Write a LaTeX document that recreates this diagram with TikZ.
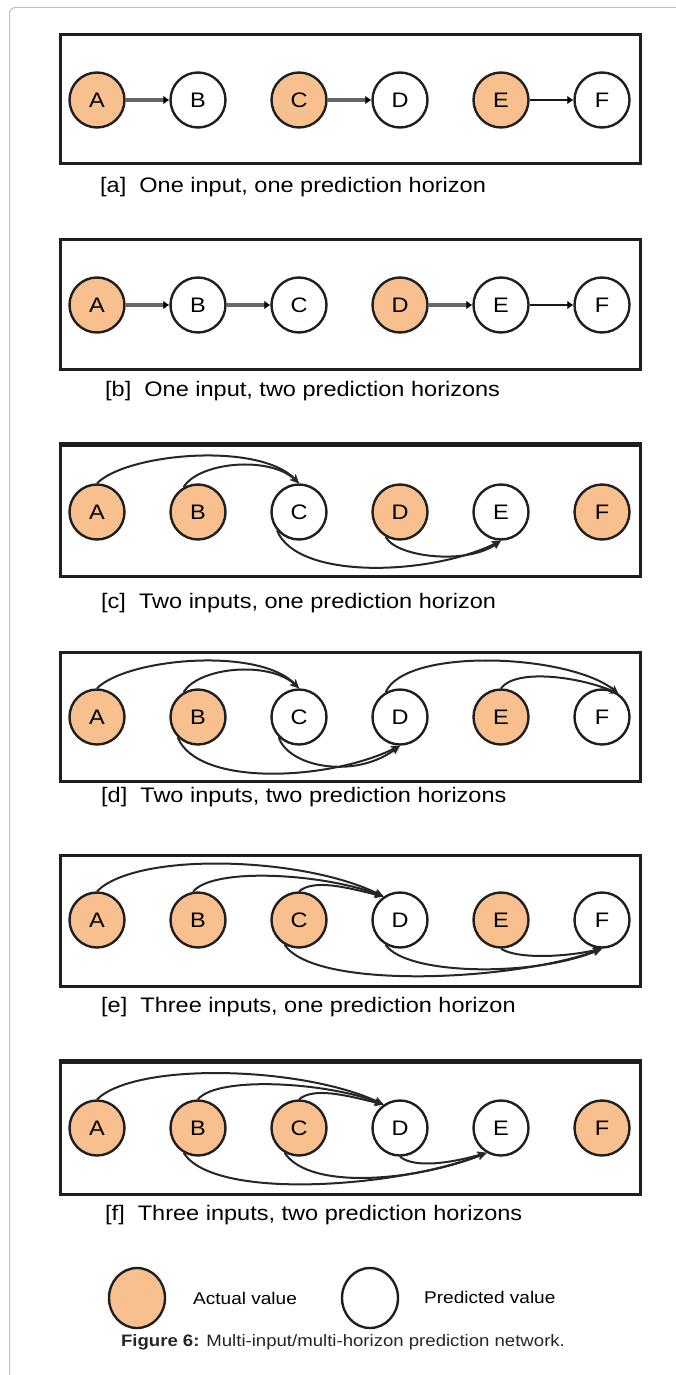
\documentclass[tikz,border=0pt]{standalone}
\usepackage{fontspec}
\setmainfont{Liberation Sans}[FakeStretch=1.12]
\usetikzlibrary{arrows.meta,shapes.geometric}
\definecolor{nodeor}{RGB}{248,192,142}
\definecolor{outline}{RGB}{190,190,190}
\newcommand{\nodesrow}[8]{%
  \node[#3] (#1A) at (97,-#2) {A};
  \node[#4] (#1B) at (198,-#2) {B};
  \node[#5] (#1C) at (299,-#2) {C};
  \node[#6] (#1D) at (400,-#2) {D};
  \node[#7] (#1E) at (501,-#2) {E};
  \node[#8] (#1F) at (602,-#2) {F};
}
\tikzset{
  base/.style={circle, draw=black!88, line width=2.4pt, minimum size=55pt, inner sep=0pt, font=\fontsize{21}{25}\selectfont},
  act/.style={base, fill=nodeor},
  pred/.style={base, fill=white},
  panelbox/.style={draw=black!88, line width=3pt},
  captext/.style={anchor=west, inner sep=0pt, font=\fontsize{21}{25}\selectfont},
  curvearrow/.style={draw=black!85, line width=2pt, -{Stealth[length=9pt,width=8pt]}},
  thickarrow/.style={draw=black!60, line width=4pt, -{Latex[length=6pt,width=9pt,black]}},
  thinarrow/.style={draw=black!90, line width=2.2pt, -{Latex[length=6pt,width=9pt,black]}},
  legendtext/.style={anchor=west, inner sep=0pt, font=\fontsize{17}{20}\selectfont}
}
\begin{document}
\begin{tikzpicture}[x=1pt,y=1pt]
\useasboundingbox (0,0) rectangle (676,-1375);
\fill[white] (0,0) rectangle (676,-1375);
\draw[outline, line width=1pt, rounded corners=6pt] (9.5,-1380) -- (9.5,-7.5) -- (690,-7.5);

% ---------- panel a ----------
\draw[panelbox] (60,-35) rectangle (640,-164);
\nodesrow{a}{100}{act}{pred}{act}{pred}{act}{pred}
\draw[thickarrow] (aA) -- (aB);
\draw[thickarrow] (aC) -- (aD);
\draw[thinarrow] (aE) -- (aF);
\node[captext] (capa) at (100,-187) {[a]\ \ One input, one prediction horizon};

% ---------- panel b ----------
\draw[panelbox] (60,-239) rectangle (640,-369);
\nodesrow{b}{305}{act}{pred}{pred}{act}{pred}{pred}
\draw[thickarrow, line width=3.5pt] (bA) -- (bB);
\draw[thickarrow, line width=3.5pt] (bB) -- (bC);
\draw[thickarrow] (bD) -- (bE);
\draw[thinarrow] (bE) -- (bF);
\node[captext] (capb) at (105,-391) {[b]\ \ One input, two prediction horizons};

% ---------- panel c ----------
\draw[panelbox] (60,-444) rectangle (640,-576);
\draw[panelbox, line width=5pt] (58.5,-444) -- (641.5,-444);
\nodesrow{c}{512}{act}{act}{pred}{act}{pred}{act}
\draw[curvearrow] (cA.north) .. controls +(30,30) and +(-40,42) .. (cC.north);
\draw[curvearrow] (cB.120) .. controls +(15,25) and +(-30,28) .. (cC.north);
\draw[curvearrow] (cC.220) .. controls +(20,-50) and +(-70,-35) .. (cE.south);
\draw[curvearrow] (cD.240) .. controls +(10,-20) and +(-35,-25) .. (cE.south);
\node[captext] (capc) at (101,-603) {[c]\ \ Two inputs, one prediction horizon};

% ---------- panel d ----------
\draw[panelbox] (60,-652) rectangle (640,-781);
\nodesrow{d}{717}{act}{act}{pred}{pred}{act}{pred}
\draw[curvearrow] (dA.north) .. controls +(30,30) and +(-40,42) .. (dC.north);
\draw[curvearrow] (dB.120) .. controls +(15,25) and +(-30,28) .. (dC.north);
\draw[curvearrow] (dB.225) .. controls +(20,-50) and +(-70,-35) .. (dD.south);
\draw[curvearrow] (dC.225) .. controls +(10,-30) and +(-45,-34) .. (dD.south);
\draw[curvearrow] (dD.120) .. controls +(20,45) and +(-50,40) .. (dF.55);
\draw[curvearrow] (dE.north) .. controls +(15,20) and +(-40,17) .. (dF.55);
\node[captext] (capd) at (101,-797) {[d]\ \ Two inputs, two prediction horizons};

% ---------- panel e ----------
\draw[panelbox] (60,-855) rectangle (640,-986);
\nodesrow{e}{920}{act}{act}{act}{pred}{act}{pred}
\draw[curvearrow] (eA.north) .. controls +(40,40) and +(-80,40) .. (eD.125);
\draw[curvearrow] (eB.100) .. controls +(20,25) and +(-60,23) .. (eD.125);
\draw[curvearrow] (eC.north) .. controls +(15,12) and +(-40,10) .. (eD.125);
\draw[curvearrow] (eC.240) .. controls +(30,-45) and +(-90,-33) .. (eF.south);
\draw[curvearrow] (eD.240) .. controls +(20,-30) and +(-70,-29) .. (eF.south);
\draw[curvearrow] (eE.south) .. controls +(15,-10) and +(-40,-9) .. (eF.south);
\node[captext] (cape) at (101,-1007) {[e]\ \ Three inputs, one prediction horizon};

% ---------- panel f ----------
\draw[panelbox] (60,-1061) rectangle (640,-1194);
\draw[panelbox, line width=5pt] (58.5,-1061) -- (641.5,-1061);
\nodesrow{f}{1128}{act}{act}{act}{pred}{pred}{act}
\draw[curvearrow] (fA.north) .. controls +(40,38) and +(-80,38) .. (fD.125);
\draw[curvearrow] (fB.north) .. controls +(20,24) and +(-55,22) .. (fD.125);
\draw[curvearrow] (fC.north) .. controls +(15,12) and +(-40,10) .. (fD.125);
\draw[curvearrow] (fB.240) .. controls +(30,-48) and +(-90,-35) .. (fE.240);
\draw[curvearrow] (fC.240) .. controls +(25,-38) and +(-70,-28) .. (fE.240);
\draw[curvearrow] (fD.south) .. controls +(15,-12) and +(-35,-10) .. (fE.240);
\node[captext] (capf) at (105,-1215) {[f]\ \ Three inputs, two prediction horizons};

% ---------- legend ----------
\node[ellipse, draw=black!88, line width=2.4pt, fill=nodeor, minimum width=56pt, minimum height=60pt, inner sep=0pt] (legact) at (137,-1298) {};
\node[legendtext] (legacttext) at (193,-1298) {Actual value};
\node[ellipse, draw=black!88, line width=2.4pt, fill=white, minimum width=56pt, minimum height=60pt, inner sep=0pt] (legpred) at (370,-1298) {};
\node[legendtext] (legpredtext) at (424,-1297) {Predicted value};

\node[inner sep=0pt, font=\fontsize{16.6}{20}\selectfont, text=black!85] (figcap) at (343,-1342) {\textbf{Figure 6:} Multi-input/multi-horizon prediction network.};
\end{tikzpicture}
\end{document}
